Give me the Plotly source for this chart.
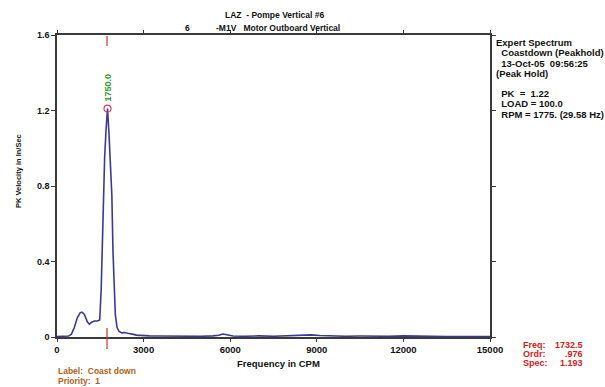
import plotly.graph_objects as go

# ---- data ----
freq = [0, 200, 400, 500, 600, 700, 800, 860, 950, 1050, 1120, 1200, 1300, 1400, 1480,
        1530, 1560, 1600, 1650, 1700, 1750, 1800, 1850, 1900, 1940, 1980, 2020, 2080, 2150,
        2250, 2350, 2450, 2550, 2650, 2750, 2900, 3200, 3500, 4000, 4500, 5000, 5400, 5600,
        5750, 5900, 6100, 6500, 7000, 7500, 8000, 8500, 8800, 9100, 9500, 10000, 10500,
        11000, 11500, 12000, 12500, 13000, 13500, 14000, 14500, 15000]
amp = [0.003, 0.003, 0.005, 0.015, 0.05, 0.10, 0.128, 0.132, 0.12, 0.08, 0.068, 0.078, 0.085, 0.085, 0.09,
       0.25, 0.45, 0.75, 0.95, 1.10, 1.21, 1.08, 0.92, 0.75, 0.45, 0.25, 0.12, 0.05, 0.03,
       0.022, 0.024, 0.02, 0.018, 0.014, 0.01, 0.008, 0.006, 0.005, 0.004, 0.005, 0.004, 0.006, 0.009,
       0.016, 0.01, 0.005, 0.004, 0.006, 0.004, 0.006, 0.009, 0.011, 0.008, 0.005, 0.004, 0.005,
       0.004, 0.004, 0.006, 0.003, 0.004, 0.003, 0.004, 0.003, 0.003]
peak_freq = [1750]
peak_amp = [1.21]
peak_label = "1750.0"
cursor_freq = 1732.5
x_ticks = [0, 3000, 6000, 9000, 12000, 15000]
x_tick_text = ["0", "3000", "6000", "9000", "12000", "15000"]
y_ticks = [0, 0.4, 0.8, 1.2, 1.6]
y_tick_text = ["0", "0.4", "0.8", "1.2", "1.6"]

title1 = "LAZ  - Pompe Vertical #6"
title2a = "6"
title2b = "-M1V   Motor Outboard Vertical"
info_lines = ["Expert Spectrum", "  Coastdown (Peakhold)", "  13-Oct-05  09:56:25", "(Peak Hold)",
              "  PK  =  1.22", "  LOAD = 100.0", "  RPM = 1775. (29.58 Hz)"]
cursor_keys = ["Freq:", "Ordr:", "Spec:"]
cursor_vals = ["1732.5", ".976", "1.193"]
bottom_lines = ["Label:  Coast down", "Priority:  1"]

# ---- layout geometry ----
W, H = 605, 387
L, R, T, B = 57, 490, 35, 337


def px(x):
    return (x - L) / (R - L)


def py(y):
    return (B - y) / (B - T)


FONT = "Liberation Sans"
AX = "#3a3a3a"


def nb(s):
    return s.replace(" ", "&nbsp;")


def txt(x, y, s, xanchor="left", color="#111", size=8, angle=0):
    return dict(x=px(x), y=py(y), xref="paper", yref="paper", text=nb(s),
                xanchor=xanchor, yanchor="middle", showarrow=False, textangle=angle,
                borderpad=0,
                font=dict(family=FONT, size=size, color=color, weight="bold"))


fig = go.Figure()
fig.add_trace(go.Scatter(x=freq, y=amp, mode="lines",
                         line=dict(color="#3a3a96", width=1.6), hoverinfo="skip"))
fig.add_trace(go.Scatter(x=peak_freq, y=peak_amp, mode="markers",
                         marker=dict(symbol="circle-open", size=7, color="#d04060",
                                     line=dict(width=1.2)), hoverinfo="skip"))

# cursor red marks
fig.add_shape(type="line", xref="x", yref="paper", x0=cursor_freq, x1=cursor_freq,
              y0=py(36), y1=py(46), line=dict(color="#d83030", width=1.2))
fig.add_shape(type="line", xref="x", yref="paper", x0=cursor_freq, x1=cursor_freq,
              y0=py(328), y1=py(349), line=dict(color="#d83030", width=1.2))

ann = []
# peak label (rotated)
ann.append(dict(x=peak_freq[0], y=py(88), xref="x", yref="paper", text=peak_label,
                textangle=-90, showarrow=False, xanchor="center", yanchor="middle",
                font=dict(family=FONT, size=9, color="#2a9a2a", weight="bold")))
# titles
ann.append(txt(274, 15, title1, xanchor="center", size=8.5))
ann.append(txt(187, 28, title2a, xanchor="center", size=8.5))
ann.append(txt(215, 28, title2b, xanchor="left", size=8.5))
# right info block
info_y = [42, 53, 63, 73, 93, 104, 114]
for t, yy in zip(info_lines, info_y):
    ann.append(txt(495, yy, t, size=9.5))
# cursor readout
for i, (k, v) in enumerate(zip(cursor_keys, cursor_vals)):
    yy = 345 + 9 * i
    ann.append(txt(522, yy, k, color="#d42020", size=9))
    ann.append(txt(584, yy, v, xanchor="right", color="#d42020", size=9))
# bottom label
for i, t in enumerate(bottom_lines):
    ann.append(txt(57, 371 + 10 * i, t, color="#b0601a", size=8.5))
# axis titles
ann.append(txt(278, 364, "Frequency in CPM", xanchor="center", size=9.5))
ann.append(txt(18, 171, "PK Velocity in In/Sec", xanchor="center", angle=-90, size=7.5))

fig.update_layout(
    width=W, height=H,
    margin=dict(l=L, r=W - R, t=T, b=H - B, pad=0),
    paper_bgcolor="white", plot_bgcolor="white",
    showlegend=False,
    annotations=ann,
    xaxis=dict(range=[0, 15000], tickvals=x_ticks, ticktext=x_tick_text, showgrid=False,
               zeroline=False, showline=True, linecolor=AX, linewidth=1.5, mirror="ticks",
               ticks="outside", ticklen=3, tickcolor=AX,
               tickfont=dict(family=FONT, size=9.5, color="#111", weight="bold")),
    yaxis=dict(range=[0, 1.6], tickvals=y_ticks, ticktext=y_tick_text, showgrid=False,
               zeroline=False, showline=True, linecolor=AX, linewidth=1.5, mirror="ticks",
               ticks="outside", ticklen=4, tickcolor=AX,
               tickfont=dict(family=FONT, size=9, color="#111", weight="bold")),
)

fig.write_html("out.html")
